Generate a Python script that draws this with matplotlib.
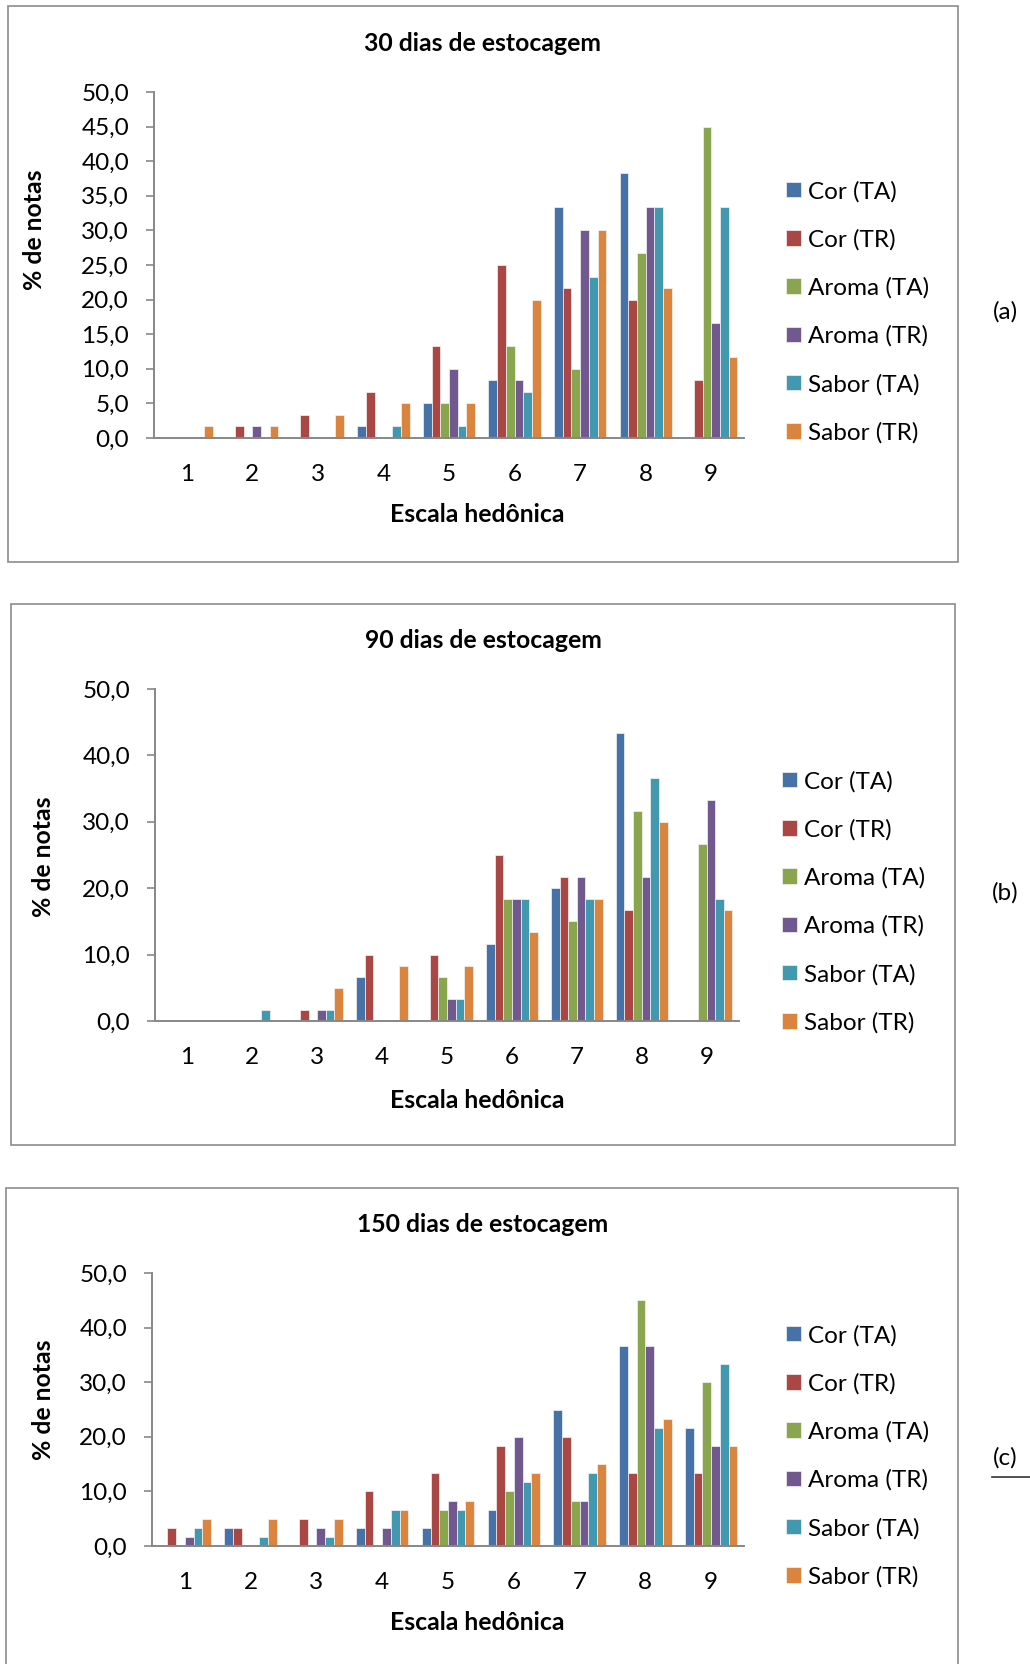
import numpy as np
import matplotlib.pyplot as plt
from matplotlib.patches import Rectangle
from matplotlib.lines import Line2D
from matplotlib.ticker import FuncFormatter

plt.rcParams['font.family'] = ['Lato', 'DejaVu Sans']

escala = ['1', '2', '3', '4', '5', '6', '7', '8', '9']
series = ['Cor (TA)', 'Cor (TR)', 'Aroma (TA)', 'Aroma (TR)', 'Sabor (TA)', 'Sabor (TR)']
cores = ['#4672A8', '#AA4643', '#89A54E', '#71588F', '#4198AF', '#DB843D']

# % de notas por nota da escala hedonica (1..9)
d30_cor_ta = [0, 0, 0, 1.67, 5.0, 8.33, 33.33, 38.33, 0]
d30_cor_tr = [0, 1.67, 3.33, 6.67, 13.33, 25.0, 21.67, 20.0, 8.33]
d30_aroma_ta = [0, 0, 0, 0, 5.0, 13.33, 10.0, 26.67, 45.0]
d30_aroma_tr = [0, 1.67, 0, 0, 10.0, 8.33, 30.0, 33.33, 16.67]
d30_sabor_ta = [0, 0, 0, 1.67, 1.67, 6.67, 23.33, 33.33, 33.33]
d30_sabor_tr = [1.67, 1.67, 3.33, 5.0, 5.0, 20.0, 30.0, 21.67, 11.67]

d90_cor_ta = [0, 0, 0, 6.67, 0, 11.67, 20.0, 43.33, 0]
d90_cor_tr = [0, 0, 1.67, 10.0, 10.0, 25.0, 21.67, 16.67, 0]
d90_aroma_ta = [0, 0, 0, 0, 6.67, 18.33, 15.0, 31.67, 26.67]
d90_aroma_tr = [0, 0, 1.67, 0, 3.33, 18.33, 21.67, 21.67, 33.33]
d90_sabor_ta = [0, 1.67, 1.67, 0, 3.33, 18.33, 18.33, 36.67, 18.33]
d90_sabor_tr = [0, 0, 5.0, 8.33, 8.33, 13.33, 18.33, 30.0, 16.67]

d150_cor_ta = [0, 3.33, 0, 3.33, 3.33, 6.67, 25.0, 36.67, 21.67]
d150_cor_tr = [3.33, 3.33, 5.0, 10.0, 13.33, 18.33, 20.0, 13.33, 13.33]
d150_aroma_ta = [0, 0, 0, 0, 6.67, 10.0, 8.33, 45.0, 30.0]
d150_aroma_tr = [1.67, 0, 3.33, 3.33, 8.33, 20.0, 8.33, 36.67, 18.33]
d150_sabor_ta = [3.33, 1.67, 1.67, 6.67, 6.67, 11.67, 13.33, 21.67, 33.33]
d150_sabor_tr = [5.0, 5.0, 5.0, 6.67, 8.33, 13.33, 15.0, 23.33, 18.33]

W, H = 1030, 1664
fig = plt.figure(figsize=(W / 100, H / 100), dpi=100)
GRAY = '#878787'


def fx(px):
    return px / W


def fy(py):
    return 1 - py / H


def painel(box, eixo, dados, titulo, passo, tit_y, xlab_y, ylab, leg_y, leg_x, letra):
    # moldura do grafico
    bx0, by0, bx1, by1 = box
    fig.patches.append(Rectangle((fx(bx0), fy(by1)), fx(bx1 - bx0), (by1 - by0) / H,
                                 transform=fig.transFigure, fill=False,
                                 edgecolor='#8c8c8c', linewidth=1.2))
    x0, ytop, x1, ybot = eixo
    ax = fig.add_axes([fx(x0), fy(ybot), fx(x1 - x0), (ybot - ytop) / H])
    x = np.arange(len(escala))
    w = 0.133
    handles = []
    for i, (vals, c) in enumerate(zip(dados, cores)):
        b = ax.bar(x + (i - 2.5) * w, vals, w, color=c, edgecolor='#f4f4f4',
                   linewidth=0.5, label=series[i])
        handles.append(b)
    ax.set_xlim(-0.5, 8.5)
    ax.set_ylim(0, 50)
    ax.set_yticks(np.arange(0, 50.1, passo))
    ax.yaxis.set_major_formatter(FuncFormatter(lambda v, p: ('%.1f' % v).replace('.', ',')))
    ax.set_xticks(x)
    ax.set_xticklabels(escala)
    for s in ['top', 'right']:
        ax.spines[s].set_visible(False)
    for s in ['left', 'bottom']:
        ax.spines[s].set_color(GRAY)
        ax.spines[s].set_linewidth(1.4)
    ax.tick_params(axis='y', direction='out', length=6, width=1.2, color=GRAY,
                   labelsize=17.5, pad=12)
    ax.tick_params(axis='x', length=0, labelsize=17.5, pad=19)
    ax.patch.set_alpha(0)
    fig.text(fx(483), fy(tit_y), titulo, ha='center', va='center',
             fontsize=17.8, fontweight='bold')
    fig.text(fx(477), fy(xlab_y), 'Escala hedônica', ha='center', va='center',
             fontsize=17.8, fontweight='bold')
    fig.text(fx(ylab[0]), fy(ylab[1]), '% de notas', ha='center', va='center',
             rotation=90, fontsize=17.8, fontweight='bold')
    ax.legend(handles=handles, loc='center left', bbox_to_anchor=(fx(leg_x), fy(leg_y)),
              bbox_transform=fig.transFigure, frameon=False, fontsize=17.5,
              handlelength=0.6, handleheight=0.6, handletextpad=0.3,
              labelspacing=1.1, borderpad=0)
    fig.text(fx(1005), fy(letra), '(' + 'abc'[len(fig.axes) - 1] + ')',
             ha='center', va='center', fontsize=17.5)
    return ax


painel((8, 6, 958, 562), (154, 92, 744, 438),
       [d30_cor_ta, d30_cor_tr, d30_aroma_ta, d30_aroma_tr, d30_sabor_ta, d30_sabor_tr],
       '30 dias de estocagem', 5, 43.5, 515, (35, 230), 312, 774, 312)
painel((11, 604, 955, 1145), (155, 689, 739, 1021),
       [d90_cor_ta, d90_cor_tr, d90_aroma_ta, d90_aroma_tr, d90_sabor_ta, d90_sabor_tr],
       '90 dias de estocagem', 10, 641, 1101, (43.5, 857), 902, 770, 893)
painel((6, 1188, 958, 1690), (152, 1273, 744, 1546),
       [d150_cor_ta, d150_cor_tr, d150_aroma_ta, d150_aroma_tr, d150_sabor_ta, d150_sabor_tr],
       '150 dias de estocagem', 10, 1225, 1622, (43.5, 1400), 1456, 774, 1458)

# traco sob o rotulo (c) e resto do texto acima
fig.lines.append(Line2D([fx(992), fx(1030)], [fy(1477), fy(1477)],
                        transform=fig.transFigure, color='#333333', linewidth=1.2))
fig.text(fx(62), fy(-6), 'p', ha='left', va='baseline', fontsize=20,
         family='Liberation Serif')
fig.text(fx(250), fy(-6), ',', ha='left', va='baseline', fontsize=20,
         family='Liberation Serif')

fig.savefig('out.png', dpi=100)
